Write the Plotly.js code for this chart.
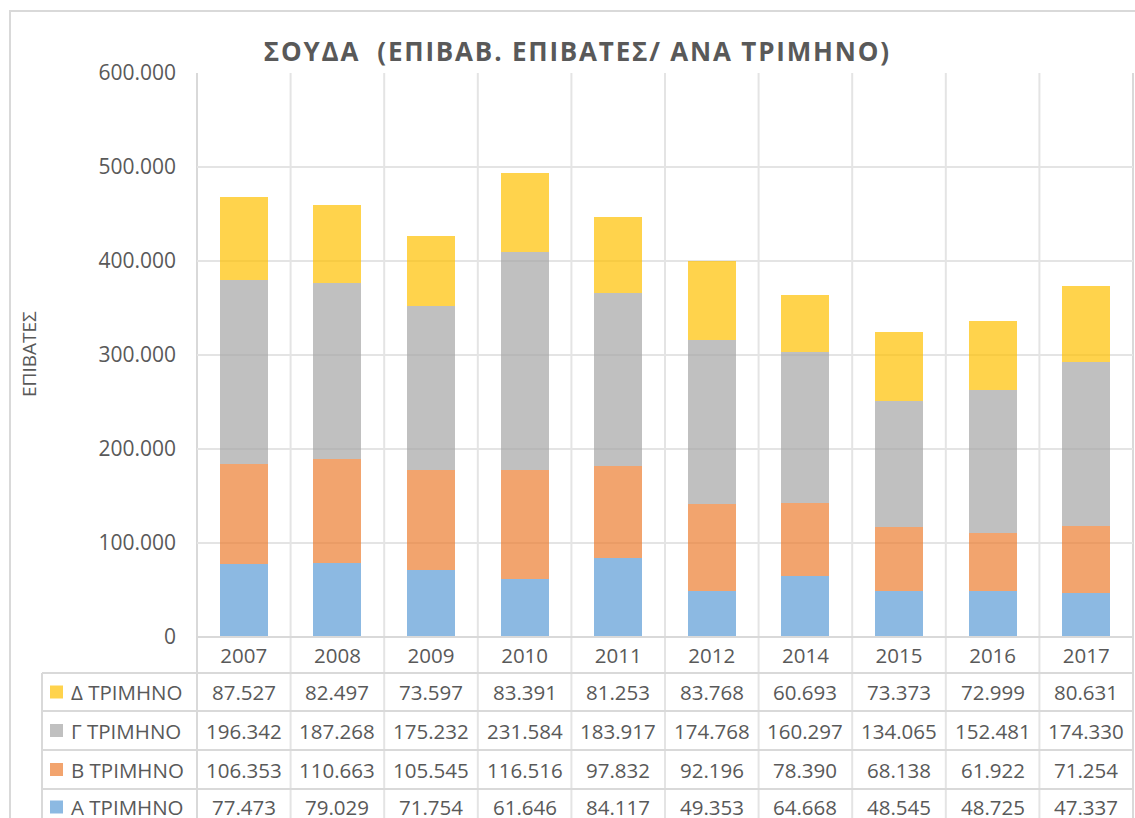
<!DOCTYPE html>
<html>
<head>
<meta charset="utf-8">
<script src="https://cdn.plot.ly/plotly-3.0.1.min.js"></script>
<style>html,body{margin:0;padding:0;background:#fff;}#chart{width:1135px;height:818px;}</style>
</head>
<body>
<div id="chart"></div>
<script>
// ---- data ----
const years = ['2007','2008','2009','2010','2011','2012','2014','2015','2016','2017'];
const qA = [77473, 79029, 71754, 61646, 84117, 49353, 64668, 48545, 48725, 47337];
const qB = [106353, 110663, 105545, 116516, 97832, 92196, 78390, 68138, 61922, 71254];
const qC = [196342, 187268, 175232, 231584, 183917, 174768, 160297, 134065, 152481, 174330];
const qD = [87527, 82497, 73597, 83391, 81253, 83768, 60693, 73373, 72999, 80631];
const seriesNames = ['Α ΤΡΙΜΗΝΟ', 'Β ΤΡΙΜΗΝΟ', 'Γ ΤΡΙΜΗΝΟ', 'Δ ΤΡΙΜΗΝΟ'];
const yTicks = [0, 100000, 200000, 300000, 400000, 500000, 600000];
const chartTitle = 'ΣΟΥΔΑ  (ΕΠΙΒΑΒ. ΕΠΙΒΑΤΕΣ/ ΑΝΑ ΤΡΙΜΗΝΟ)';
const yTitle = 'ΕΠΙΒΑΤΕΣ';

// ---- styles ----
const colors = ['#5B9BD5', '#ED7D31', '#A5A5A5', '#FFC000'];
const barOpacity = 0.7;
const txt = '#595959';
const FONT = 'Open Sans, Liberation Sans, sans-serif';
const lineCol = '#d9d9d9';

const seriesVals = [qA, qB, qC, qD];
function fmt(n){ return String(n).replace(/\B(?=(\d{3})+(?!\d))/g, '.'); }

const traces = seriesVals.map((vals, i) => ({
  type: 'bar', x: years, y: vals, name: seriesNames[i],
  marker: {color: colors[i], opacity: barOpacity, line: {width: 0}},
  hoverinfo: 'none'
}));

// layout geometry
const W = 1135, H = 818;
const mL = 197, mR = 2, mT = 73, mB = 181;
const pw = W - mL - mR, ph = H - mT - mB;
const px2x = p => (p - mL) / pw;
const py2y = p => (H - mB - p) / ph;

// table rows (top to bottom): Δ, Γ, Β, Α
const rowOrder = [3, 2, 1, 0];
const rowLines = [673, 711, 750, 789];
const rowCenters = [692, 730.5, 769.5, 807];
const bottomY = py2y(H);

const shapes = [];
// vertical lines (category boundaries) through plot & table
for (let i = 0; i <= years.length; i++) {
  const x = i / years.length;
  shapes.push({type:'line', xref:'paper', yref:'paper', x0:x, x1:x, y0:1, y1:bottomY,
    line:{color: i===0||i===years.length ? lineCol : '#e4e4e4', width:2}, layer:'below'});
}
// left edge of table
shapes.push({type:'line', xref:'paper', yref:'paper', x0:px2x(42), x1:px2x(42), y0:py2y(673), y1:bottomY,
  line:{color:lineCol, width:2}, layer:'below'});
// horizontal table lines
rowLines.forEach(p => shapes.push({type:'line', xref:'paper', yref:'paper', x0:px2x(42), x1:1, y0:py2y(p), y1:py2y(p),
  line:{color:lineCol, width:2}, layer:'below'}));
// axis bottom line
shapes.push({type:'line', xref:'paper', yref:'paper', x0:0, x1:1, y0:0, y1:0, line:{color:lineCol, width:2}, layer:'above'});
// outer chart border
shapes.push({type:'path', xref:'paper', yref:'paper',
  path:`M ${px2x(10)} ${bottomY} L ${px2x(10)} ${py2y(11)} L ${px2x(1140)} ${py2y(11)}`,
  line:{color:lineCol, width:2}, layer:'below'});

const annotations = [];
rowOrder.forEach((si, r) => {
  const yc = py2y(rowCenters[r]);
  // legend key
  shapes.push({type:'rect', xref:'paper', yref:'paper', x0:px2x(50), x1:px2x(63),
    y0:yc - 6.5/ph, y1:yc + 6.5/ph, fillcolor:colors[si], opacity:barOpacity, line:{width:0}});
  annotations.push({xref:'paper', yref:'paper', x:px2x(69), y:yc, xanchor:'left', yanchor:'middle',
    text: seriesNames[si], showarrow:false, font:{family:FONT, size:20.5, color:txt}});
  seriesVals[si].forEach((v, j) => {
    annotations.push({xref:'x', yref:'paper', x:j, y:yc, xanchor:'center', yanchor:'middle',
      text: fmt(v), showarrow:false, font:{family:FONT, size:20.5, color:txt}});
  });
});
// y title
annotations.push({xref:'paper', yref:'paper', x:px2x(29), y:py2y(354), xanchor:'center', yanchor:'middle',
  text:yTitle, textangle:-90, showarrow:false, font:{family:FONT, size:19, color:txt}});
// chart title
annotations.push({xref:'paper', yref:'paper', x:px2x(577), y:py2y(51), xanchor:'center', yanchor:'middle',
  text:'<b>'+chartTitle+'</b>', showarrow:false, font:{family:FONT, size:26, color:txt}});

const layout = {
  width: W, height: H,
  margin: {l:mL, r:mR, t:mT, b:mB, pad:0},
  paper_bgcolor:'#ffffff', plot_bgcolor:'rgba(0,0,0,0)',
  barmode:'stack', bargap:0.487,
  separators: ',.',
  showlegend:false,
  font:{family:FONT, color:txt},
  xaxis:{type:'category', range:[-0.5, years.length - 0.5], showgrid:false, zeroline:false, showline:false, ticks:'',
    tickfont:{family:FONT, size:20.5, color:txt}, ticklabelstandoff:4, fixedrange:true},
  yaxis:{range:[0,600000], tickvals:yTicks, tickformat:',d', showgrid:true, gridcolor:'#e4e4e4', gridwidth:2,
    zeroline:false, showline:false, ticks:'', tickfont:{family:FONT, size:21, color:txt},
    ticklabelstandoff:20, fixedrange:true},
  shapes: shapes,
  annotations: annotations
};

Plotly.newPlot('chart', traces, layout, {staticPlot:true, displayModeBar:false}).then(gd => {
  const anns = gd.querySelectorAll('.annotation-text');
  anns.forEach(t => { if (t.textContent === chartTitle) t.style.letterSpacing = '1.8px'; });
});
</script>
</body>
</html>
